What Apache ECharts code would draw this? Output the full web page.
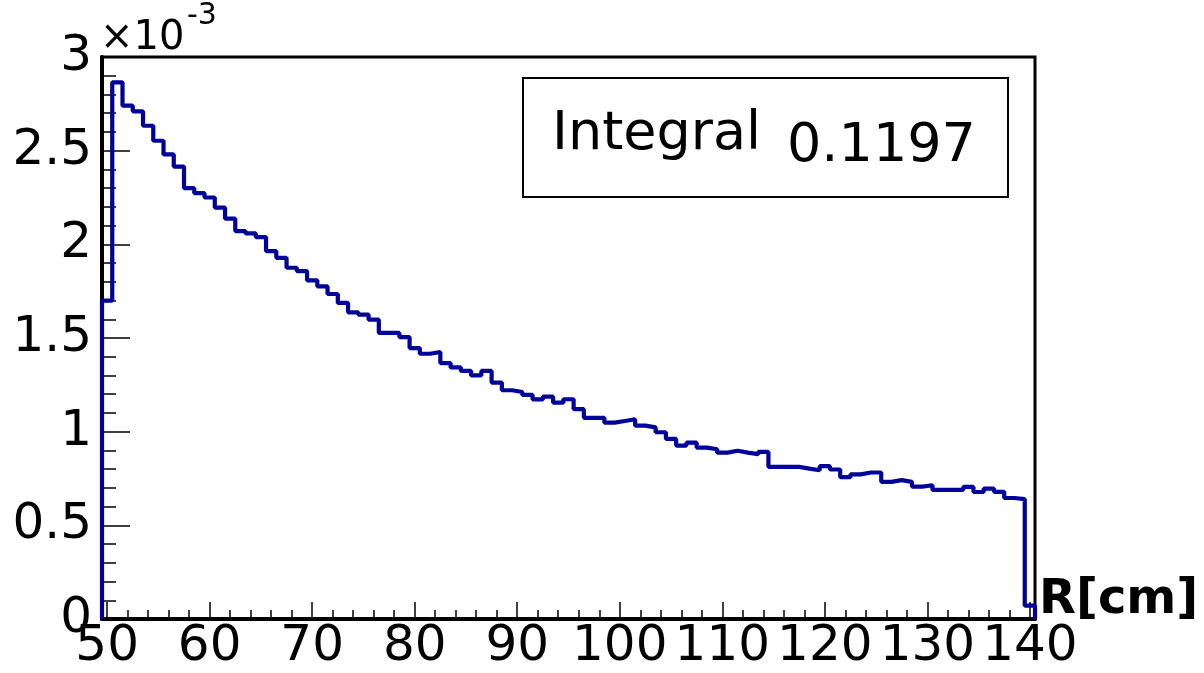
<!DOCTYPE html>
<html>
<head>
<meta charset="UTF-8">
<title>R distribution</title>
<style>
html, body { margin: 0; padding: 0; background: #fff; }
#chart { width: 1204px; height: 673px; }
</style>
</head>
<body>
<div id="chart"></div>
<script src="https://cdn.jsdelivr.net/npm/echarts@6/dist/echarts.min.js"></script>
<script>
// histogram: 1 cm bins centred on 50 ... 140, contents in units of 1e-3
var binCentres = [];
for (var c = 50; c <= 140; c++) binCentres.push(c);
var binWidth = 1;
var binContents = [
  1.70, 2.865, 2.74, 2.71, 2.633, 2.553, 2.48, 2.415, 2.30, 2.273,
  2.25, 2.196, 2.137, 2.071, 2.058, 2.039, 1.964, 1.928, 1.875, 1.857,
  1.808, 1.776, 1.735, 1.687, 1.637, 1.625, 1.598, 1.527, 1.527, 1.505,
  1.446, 1.416, 1.425, 1.366, 1.343, 1.324, 1.30, 1.324, 1.262, 1.221,
  1.212, 1.196, 1.172, 1.187, 1.155, 1.173, 1.12, 1.074, 1.074, 1.048,
  1.057, 1.066, 1.032, 1.023, 0.997, 0.961, 0.926, 0.941, 0.915, 0.906,
  0.888, 0.898, 0.888, 0.880, 0.892, 0.812, 0.812, 0.812, 0.803, 0.794,
  0.816, 0.798, 0.757, 0.772, 0.782, 0.782, 0.732, 0.741, 0.732, 0.707,
  0.714, 0.689, 0.689, 0.689, 0.705, 0.678, 0.696, 0.679, 0.646, 0.640,
  0.071
];
var xMajorTicks = [50, 60, 70, 80, 90, 100, 110, 120, 130, 140];
var xMinorTicks = [52, 54, 56, 58, 62, 64, 66, 68, 72, 74, 76, 78, 82, 84, 86, 88,
  92, 94, 96, 98, 102, 104, 106, 108, 112, 114, 116, 118, 122, 124, 126, 128,
  132, 134, 136, 138];
var yExponent = '-3';
var integralValue = '0.1197';

// outline of the histogram (ROOT "HIST" style)
var xLow = binCentres[0] - binWidth / 2;
var xHigh = binCentres[binCentres.length - 1] + binWidth / 2;
var outline = [[xLow, 0]];
for (var i = 0; i < binCentres.length; i++) {
  outline.push([binCentres[i] - binWidth / 2, binContents[i]]);
  outline.push([binCentres[i] + binWidth / 2, binContents[i]]);
}
outline.push([xHigh, 0]);

var font = 'DejaVu Sans';
var chart = echarts.init(document.getElementById('chart'));

chart.setOption({
  animation: false,
  backgroundColor: '#fff',
  grid: {
    left: 102, right: 169, top: 57, bottom: 54,
    containLabel: false, outerBoundsMode: 'none',
    show: true, borderColor: '#000', borderWidth: 3
  },
  xAxis: [{
    type: 'value', min: xLow, max: xHigh, position: 'bottom',
    axisLine: { show: true, onZero: false, lineStyle: { color: '#000', width: 4 } },
    axisTick: { show: true, inside: true, length: 17, customValues: xMajorTicks,
      lineStyle: { color: '#000', width: 1.5 } },
    axisLabel: { show: true, customValues: xMajorTicks, margin: 3,
      fontFamily: font, fontSize: 50, color: '#000' },
    splitLine: { show: false },
    name: 'R[cm]', nameLocation: 'end', nameGap: 4, nameMoveOverlap: false,
    nameTextStyle: { fontFamily: font, fontWeight: 'bold', fontSize: 48, color: '#000',
      align: 'left', verticalAlign: 'bottom', lineHeight: 36 }
  }, {
    type: 'value', min: xLow, max: xHigh, position: 'bottom',
    axisLine: { show: false, onZero: false },
    axisTick: { show: true, inside: true, length: 9, customValues: xMinorTicks,
      lineStyle: { color: '#000', width: 1.5 } },
    axisLabel: { show: false },
    splitLine: { show: false }
  }],
  yAxis: {
    type: 'value', min: 0, max: 3, interval: 0.5,
    axisLine: { show: true, onZero: false, lineStyle: { color: '#000', width: 4 } },
    axisTick: { show: true, inside: true, length: 28, lineStyle: { color: '#000', width: 1.5 } },
    minorTick: { show: true, splitNumber: 5, length: 14, lineStyle: { color: '#000', width: 1.5 } },
    axisLabel: { fontFamily: font, fontSize: 50, color: '#000', margin: 10 },
    splitLine: { show: false }
  },
  series: [{
    type: 'line',
    data: outline,
    showSymbol: false,
    symbol: 'none',
    lineStyle: { color: '#00009a', width: 4.2 },
    z: 3
  }],
  graphic: [
    { type: 'text', left: 100, top: 19,
      style: { text: '\u00d710', font: '40px "DejaVu Sans"', fill: '#000' } },
    { type: 'text', left: 187, top: 1,
      style: { text: yExponent, font: '30px "DejaVu Sans"', fill: '#000' } },
    { type: 'rect', shape: { x: 523, y: 78, width: 485, height: 119 },
      style: { fill: '#fff', stroke: '#000', lineWidth: 2 }, z: 10 },
    { type: 'text', left: 552, top: 108, z: 11,
      style: { text: 'Integral', font: '54px "DejaVu Sans"', fill: '#000' } },
    { type: 'text', left: 787, top: 120, z: 11,
      style: { text: integralValue, font: '54px "DejaVu Sans"', fill: '#000' } }
  ]
});
</script>
</body>
</html>
